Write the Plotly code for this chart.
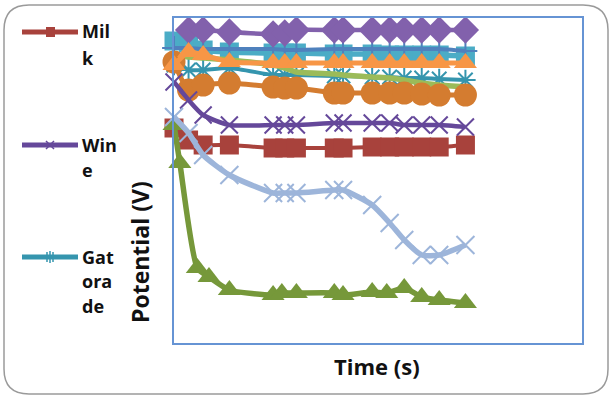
import plotly.graph_objects as go

# ---------------- data ----------------
time_s = [0, 5, 10, 19, 34, 38, 42, 55, 58, 68, 74, 79, 85, 91, 100]
time_green_tri = [0, 2, 8, 12, 19, 34, 37, 42, 55, 58, 68, 73, 79, 85, 91, 100]

milk = [0.860, 0.812, 0.792, 0.792, 0.780, 0.780, 0.780, 0.780, 0.780, 0.784, 0.784, 0.784, 0.784, 0.784, 0.792]
wine = [1.044, 0.972, 0.912, 0.872, 0.872, 0.872, 0.872, 0.880, 0.880, 0.880, 0.880, 0.872, 0.872, 0.872, 0.864]
gatorade = [1.112, 1.092, 1.092, 1.100, 1.072, 1.072, 1.072, 1.068, 1.068, 1.064, 1.064, 1.060, 1.060, 1.056, 1.052]
series_diamond = [None, 1.252, 1.252, 1.244, 1.236, 1.240, 1.252, 1.252, 1.252, 1.252, 1.252, 1.252, 1.252, 1.252, 1.252]
series_plus = [1.180, 1.180, 1.176, 1.176, 1.176, 1.172, 1.172, 1.176, 1.176, 1.176, 1.176, 1.176, 1.176, 1.176, 1.168]
series_teal_sq = [1.208, 1.200, 1.172, 1.164, 1.160, 1.160, 1.160, 1.156, 1.156, 1.156, 1.152, 1.152, 1.152, 1.152, 1.148]
series_orange_tri = [1.112, 1.164, 1.152, 1.124, 1.120, 1.120, 1.120, 1.120, 1.120, 1.120, 1.120, 1.120, 1.120, 1.120, 1.120]
series_orange_circ = [1.124, 1.012, 1.032, 1.040, 1.024, 1.020, 1.020, 1.000, 1.000, 1.000, 1.000, 1.000, 0.996, 0.992, 0.992]
series_green_line = [1.152, 1.144, 1.140, 1.132, 1.112, 1.100, 1.084, 1.076, 1.072, 1.064, 1.060, 1.052, 1.040, 1.032, 1.024]
series_lightblue_x = [0.904, 0.840, 0.752, 0.672, 0.600, 0.600, 0.600, 0.612, 0.612, 0.552, 0.480, 0.412, 0.352, 0.352, 0.392]
series_green_tri = [0.872, 0.720, 0.300, 0.264, 0.212, 0.192, 0.200, 0.200, 0.200, 0.192, 0.204, 0.200, 0.220, 0.184, 0.172, 0.160]

legend_names = [["Mil", "k"], ["Win", "e"], ["Gat", "ora", "de"]]

# ---------------- style ----------------
C_MILK = "#A8423C"
C_WINE = "#65489A"
C_GAT = "#3595AE"
C_DIAM = "#8261AC"
C_PLUS = "#4F81BD"
C_TEALSQ = "#4BACC6"
C_ORTRI = "#F79646"
C_ORCIRC = "#D47C30"
C_GRLINE = "#9BBB59"
C_LBX = "#9DB5DA"
C_GRTRI = "#76983A"

FONT = "Open Sans"
W, H = 610, 395
L, R, T, B = 174, 582, 18, 343


def X(px):
    return (px - L) / (R - L)


def Y(py):
    return (B - py) / (B - T)


fig = go.Figure()


def add(x, y, color, symbol, size, lw, mlw=0, name=None):
    marker = dict(symbol=symbol, size=size, color=color)
    if mlw:
        marker["line"] = dict(color=color, width=mlw)
    fig.add_trace(go.Scatter(
        x=x, y=y, mode="lines+markers", name=name,
        line=dict(color=color, width=lw, shape="spline", smoothing=0.6),
        marker=marker, cliponaxis=False, showlegend=False,
        connectgaps=False,
    ))


add(time_s, series_teal_sq, C_TEALSQ, "square", 19, 5.5)
add(time_s, series_plus, C_PLUS, "cross-thin", 17, 4, mlw=2)
add(time_s, gatorade, C_GAT, "asterisk", 17, 4, mlw=2, name="Gatorade")
add(time_s, series_green_line, C_GRLINE, "triangle-up", 1, 5.5)
add(time_s, series_diamond, C_DIAM, "diamond", 21, 4.5)
add(time_s, series_orange_circ, C_ORCIRC, "circle", 23, 5)
add(time_s, series_orange_tri, C_ORTRI, "triangle-up", 20, 5)
add(time_s, milk, C_MILK, "square", 19, 4, name="Milk")
add(time_s, wine, C_WINE, "x-thin", 17, 4.5, mlw=2, name="Wine")
add(time_green_tri, series_green_tri, C_GRTRI, "triangle-up", 20, 5.5)
add(time_s, series_lightblue_x, C_LBX, "x-thin", 18, 5.5, mlw=2)

shapes = []
# outer rounded chart border
r = 25
x0, x1, y0, y1 = 4, 608, 5, 394
path = (f"M {X(x0 + r)},{Y(y0)} L {X(x1 - r)},{Y(y0)} Q {X(x1)},{Y(y0)} {X(x1)},{Y(y0 + r)} "
        f"L {X(x1)},{Y(y1 - r)} Q {X(x1)},{Y(y1)} {X(x1 - r)},{Y(y1)} "
        f"L {X(x0 + r)},{Y(y1)} Q {X(x0)},{Y(y1)} {X(x0)},{Y(y1 - r)} "
        f"L {X(x0)},{Y(y0 + r)} Q {X(x0)},{Y(y0)} {X(x0 + r)},{Y(y0)} Z")
shapes.append(dict(type="path", xref="paper", yref="paper", path=path,
                   line=dict(color="#9a9a9a", width=1.5), layer="below"))

# legend samples
leg_y = [32, 145, 257]
leg_cols = [C_MILK, C_WINE, C_GAT]
for yy, cc in zip(leg_y, leg_cols):
    shapes.append(dict(type="line", xref="paper", yref="paper",
                       x0=X(22), x1=X(78), y0=Y(yy), y1=Y(yy),
                       line=dict(color=cc, width=5)))
shapes.append(dict(type="rect", xref="paper", yref="paper",
                   x0=X(46), x1=X(55), y0=Y(27), y1=Y(37),
                   fillcolor=C_MILK, line=dict(width=0)))
shapes.append(dict(type="path", xref="paper", yref="paper",
                   path=f"M {X(46)},{Y(141)} L {X(54)},{Y(149)} M {X(54)},{Y(141)} L {X(46)},{Y(149)}",
                   line=dict(color=C_WINE, width=1.5)))
shapes.append(dict(type="path", xref="paper", yref="paper",
                   path=(f"M {X(47)},{Y(252)} L {X(47)},{Y(262)} M {X(50)},{Y(251)} L {X(50)},{Y(263)} "
                         f"M {X(53)},{Y(252)} L {X(53)},{Y(262)}"),
                   line=dict(color=C_GAT, width=1.5)))

annotations = []
leg_mid = [[31.5, 58], [145, 170], [257, 281, 306]]
for lines, mids in zip(legend_names, leg_mid):
    for txt, m in zip(lines, mids):
        annotations.append(dict(text=txt, xref="paper", yref="paper", x=X(80), y=Y(m),
                                xanchor="left", yanchor="middle", showarrow=False,
                                font=dict(family=FONT, size=18, color="#111111", weight="bold")))

annotations.append(dict(text="Potential (V)", xref="paper", yref="paper", x=X(140), y=Y(252),
                        xanchor="center", yanchor="middle", textangle=-90, showarrow=False,
                        font=dict(family=FONT, size=23, color="#111111", weight="bold")))
annotations.append(dict(text="Time (s)", xref="paper", yref="paper", x=X(377), y=Y(366),
                        xanchor="center", yanchor="middle", showarrow=False,
                        font=dict(family=FONT, size=22, color="#111111", weight="bold")))

axis_common = dict(showticklabels=False, ticks="", showgrid=False, zeroline=False,
                   showline=True, mirror=True, linecolor="#6694D4", linewidth=1.5)

fig.update_layout(
    width=W, height=H,
    margin=dict(l=L, r=W - R, t=T, b=H - B, pad=0),
    paper_bgcolor="white", plot_bgcolor="white",
    xaxis=dict(range=[0, 140], **axis_common),
    yaxis=dict(range=[0, 1.3], **axis_common),
    shapes=shapes, annotations=annotations, showlegend=False,
)

fig.write_html("out.html")
